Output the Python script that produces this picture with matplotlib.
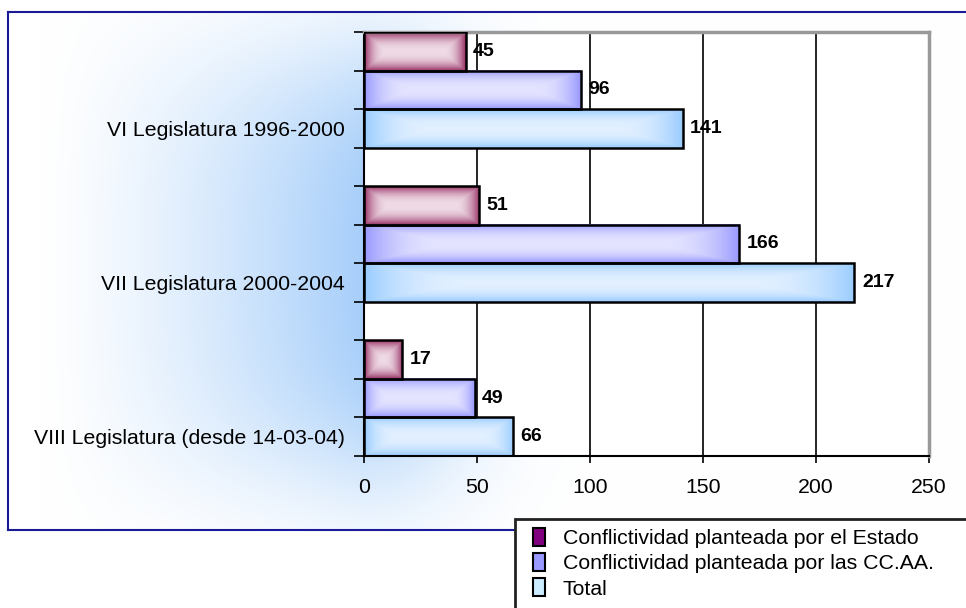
import numpy as np
import matplotlib.pyplot as plt
from matplotlib.patches import Patch, Rectangle
from matplotlib.colors import to_rgb
from matplotlib.lines import Line2D

plt.rcParams['font.family'] = ['Liberation Sans', 'DejaVu Sans']

# data
categorias = ['VI Legislatura 1996-2000', 'VII Legislatura 2000-2004',
              'VIII Legislatura (desde 14-03-04)']
series = ['Conflictividad planteada por el Estado',
          'Conflictividad planteada por las CC.AA.',
          'Total']
estado = [45, 51, 17]
ccaa = [96, 166, 49]
total = [141, 217, 66]
valores = [estado, ccaa, total]

# colours: (edge of gradient, centre of gradient, legend)
edge_cols = ['#993366', '#9999ff', '#99ccff']
centre_cols = ['#efdbe6', '#e4e4ff', '#e2f0ff']
legend_cols = ['#800080', '#9999ff', '#ccecff']

W, H = 966, 608
fig = plt.figure(figsize=(W / 100, H / 100), dpi=100)
fig.patch.set_facecolor('white')

# background glow behind the chart area
fx0, fy0, fx1, fy1 = 8, 12, 966, 530
bg = fig.add_axes([fx0 / W, 1 - fy1 / H, (fx1 - fx0) / W, (fy1 - fy0) / H], zorder=0)
xs = np.arange(fx0, fx1)
ys = np.arange(fy0, fy1)
X, Y = np.meshgrid(xs, ys)
fx = np.where(X < 364, np.clip((X - 40) / 320.0, 0, 1) ** 1.3,
              np.exp(-((X - 364) / 110.0) ** 2))
fy = np.exp(-np.abs((Y - 265) / 225.0) ** 3.5)
inten = fx * fy
c_hi = np.array(to_rgb('#a8cffa'))
img = 1 - inten[..., None] * (1 - c_hi[None, None, :])
bg.imshow(img, extent=(0, 1, 0, 1), aspect='auto', origin='upper')
bg.set_axis_off()

# outer blue frame (right side runs off the picture)
frame_col = '#1a1a99'
fig.add_artist(Line2D([fx0 / W, 1], [1 - fy0 / H] * 2, color=frame_col, lw=1.5))
fig.add_artist(Line2D([fx0 / W] * 2, [1 - fy0 / H, 1 - fy1 / H], color=frame_col, lw=1.5))
fig.add_artist(Line2D([fx0 / W, 515 / W], [1 - fy1 / H] * 2, color=frame_col, lw=1.5))

# main axes
ax = fig.add_axes([364 / W, 1 - 456 / H, (929 - 364) / W, (456 - 32) / H], zorder=2)
ax.set_facecolor('white')

for x in [50, 100, 150, 200]:
    ax.axvline(x, color='black', lw=1.2, zorder=1)

PX_PER_UNIT = 565 / 250
SLOT_PX = 424 / 11


def grad_bar(ax, y0, y1, width, c_edge, c_mid):
    half_w = max(width * PX_PER_UNIT / 2, 1)
    half_h = (y1 - y0) * SLOT_PX / 2
    n_x = max(int(half_w * 2), 4)
    n_y = max(int(half_h * 2), 4)
    xp = np.abs(np.linspace(-half_w, half_w, n_x))
    yp = np.abs(np.linspace(-half_h, half_h, n_y))
    XP, YP = np.meshgrid(xp, yp)
    # rectangular "from centre" gradient
    mx = max(half_h, 0.45 * half_w)
    tx = np.clip((XP - (half_w - mx)) / mx, 0, 1)
    ty = YP / half_h
    t = np.maximum(tx, ty) ** 2.3
    e = np.array(to_rgb(c_edge))
    m = np.array(to_rgb(c_mid))
    arr = m[None, None, :] + t[..., None] * (e - m)[None, None, :]
    ax.imshow(arr, extent=(0, width, y1, y0), aspect='auto', zorder=2,
              interpolation='bilinear')


for g in range(len(categorias)):
    for s in range(len(series)):
        val = valores[s][g]
        y0 = g * 4 + s
        grad_bar(ax, y0, y0 + 1, val, edge_cols[s], centre_cols[s])
        ax.barh(y0 + 0.5, val, height=1, facecolor='none', edgecolor='black',
                linewidth=1.8, zorder=3)
        ax.text(val + 3.3, y0 + 0.5, str(val), va='center', ha='left',
                fontsize=14, fontweight='bold', zorder=4)

ax.set_xlim(0, 250)
ax.set_ylim(11, 0)

ax.set_xticks([0, 50, 100, 150, 200, 250])
ax.tick_params(axis='x', direction='out', length=5, width=1.2, labelsize=15.3,
               pad=11, color='black')
ax.set_yticks(np.arange(0, 12))
ax.set_yticklabels([])
ax.tick_params(axis='y', which='major', direction='out', length=7, width=1.2)
ax.set_yticks([g * 4 + 2.5 for g in range(3)], minor=True)
ax.set_yticklabels(categorias, minor=True)
ax.tick_params(axis='y', which='minor', length=0, pad=14, labelsize=15.3)

for side in ['left', 'bottom']:
    ax.spines[side].set_color('black')
    ax.spines[side].set_linewidth(1.5)
for side in ['top', 'right']:
    ax.spines[side].set_color('#999999')
    ax.spines[side].set_linewidth(2.5)

# legend box running off the bottom-right corner
fig.add_artist(Rectangle((515 / W, -0.05), 1, (608 - 519) / H + 0.05,
                         transform=fig.transFigure, facecolor='white',
                         edgecolor='#222222', lw=2, zorder=5))
handles = [Patch(facecolor=c, edgecolor='black', lw=1.5) for c in legend_cols]
leg = fig.legend(handles, series, loc='upper left',
                 bbox_to_anchor=(519 / W, 1 - 514 / H), frameon=False,
                 fontsize=15.3, handlelength=0.55, handleheight=0.95,
                 handletextpad=0.85, labelspacing=0.22, borderpad=0.15)
leg.set_zorder(6)

fig.savefig('out.png', dpi=100)
